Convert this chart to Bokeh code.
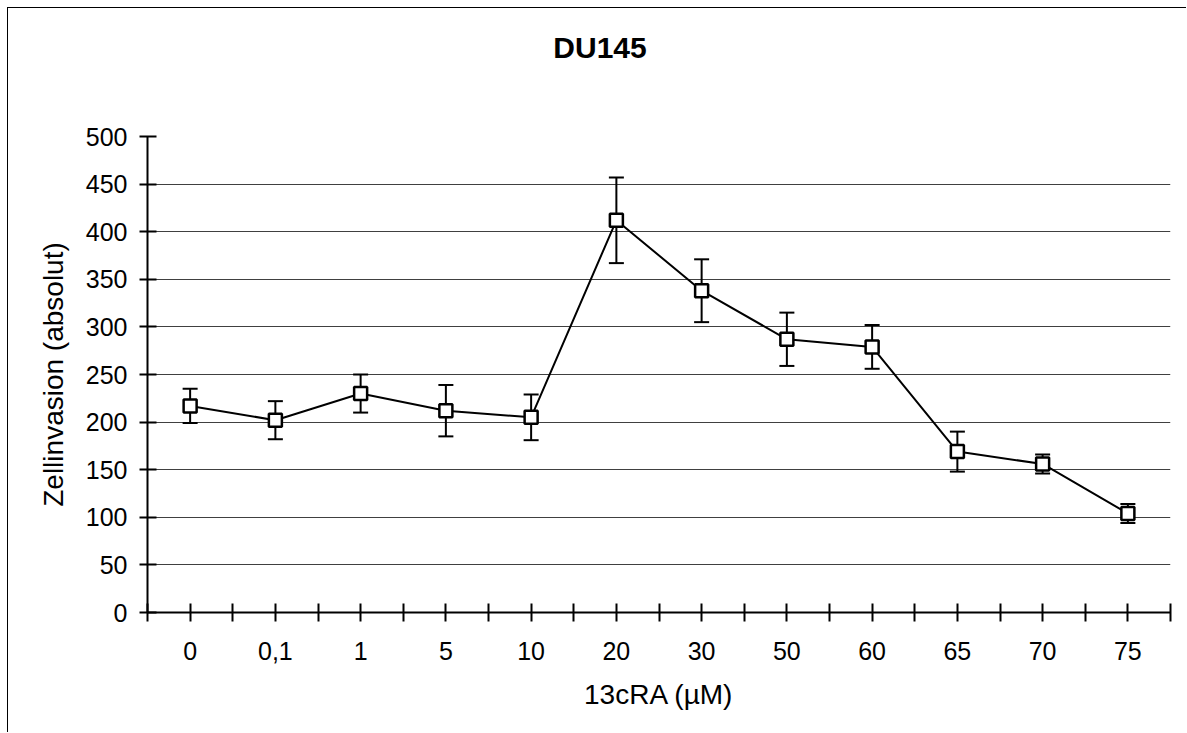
from bokeh.plotting import figure
from bokeh.models import (Range1d, FixedTicker, CustomJSTickFormatter, Whisker,
                          TeeHead, ColumnDataSource, Div)
from bokeh.layouts import column
from bokeh.embed import file_html
from bokeh.resources import INLINE

# ---- data ----
categories = ["0", "0,1", "1", "5", "10", "20", "30", "50", "60", "65", "70", "75"]
invasion = [217, 202, 230, 212, 205, 412, 338, 287, 279, 169, 156, 104]
error = [18, 20, 20, 27, 24, 45, 33, 28, 23, 21, 10, 10]
y_ticks = [0, 50, 100, 150, 200, 250, 300, 350, 400, 450, 500]
title_text = "DU145"

n = len(categories)
xs = [i + 0.5 for i in range(n)]
src = ColumnDataSource(dict(
    x=xs, y=invasion,
    lower=[v - e for v, e in zip(invasion, error)],
    upper=[v + e for v, e in zip(invasion, error)],
))

FONT = "Liberation Sans"
W = 1178
TITLE_H = 80

title_div = Div(text=title_text, width=W, height=TITLE_H, margin=0,
                styles={"font-family": FONT, "font-size": "30px", "font-weight": "bold",
                        "text-align": "center", "line-height": f"{TITLE_H}px",
                        "text-indent": "6px", "color": "black",
                        "background-color": "white"})

p = figure(width=W, height=724 - TITLE_H, output_backend="svg", toolbar_location=None,
           x_range=Range1d(0, n), y_range=Range1d(0, 500),
           min_border_left=139, min_border_right=16,
           min_border_top=128 - TITLE_H, min_border_bottom=120)
p.margin = 0
p.outline_line_color = None
p.background_fill_color = "white"
p.border_fill_color = "white"

# grid
p.xgrid.visible = False
p.ygrid.ticker = FixedTicker(ticks=y_ticks)
p.ygrid.grid_line_color = "#404040"
p.ygrid.grid_line_width = 1

# y axis
ya = p.yaxis[0]
ya.ticker = FixedTicker(ticks=y_ticks)
ya.axis_label = "Zellinvasion (absolut)"
ya.axis_label_text_font = FONT
ya.axis_label_text_font_size = "28px"
ya.axis_label_text_font_style = "normal"
ya.axis_label_text_color = "black"
ya.axis_label_standoff = 14
ya.major_label_text_font = FONT
ya.major_label_text_font_size = "25px"
ya.major_label_text_color = "black"
ya.major_label_standoff = 12
ya.axis_line_width = 2
ya.major_tick_line_width = 2
ya.major_tick_in = 9
ya.major_tick_out = 8
ya.minor_tick_line_color = None

# x axis
xa = p.xaxis[0]
xa.ticker = FixedTicker(ticks=xs, minor_ticks=list(range(n + 1)))
xa.formatter = CustomJSTickFormatter(args=dict(labels=categories),
                                     code="const i = Math.floor(tick); return labels[i] || '';")
xa.axis_label = "13cRA (\u00b5M)"
xa.axis_label_text_font = FONT
xa.axis_label_text_font_size = "28px"
xa.axis_label_text_font_style = "normal"
xa.axis_label_text_color = "black"
xa.axis_label_standoff = 16
xa.major_label_text_font = FONT
xa.major_label_text_font_size = "25px"
xa.major_label_text_color = "black"
xa.major_label_standoff = 20
xa.axis_line_width = 2
xa.major_tick_line_width = 2
xa.major_tick_in = 9
xa.major_tick_out = 9
xa.minor_tick_line_width = 2
xa.minor_tick_in = 9
xa.minor_tick_out = 9

# error bars
w = Whisker(source=src, base="x", upper="upper", lower="lower",
            line_color="black", line_width=2,
            upper_head=TeeHead(size=15, line_width=2, line_color="black"),
            lower_head=TeeHead(size=15, line_width=2, line_color="black"))
p.add_layout(w)

p.line("x", "y", source=src, line_color="black", line_width=2)
p.scatter("x", "y", source=src, marker="square", size=13, fill_color="white",
          line_color="black", line_width=2.5)

layout = column(title_div, p, spacing=0)
layout.styles = {"margin-left": "7px", "margin-top": "7px",
                 "border-left": "1px solid black", "border-top": "1px solid black"}

open("out.html", "w").write(file_html(layout, INLINE))
